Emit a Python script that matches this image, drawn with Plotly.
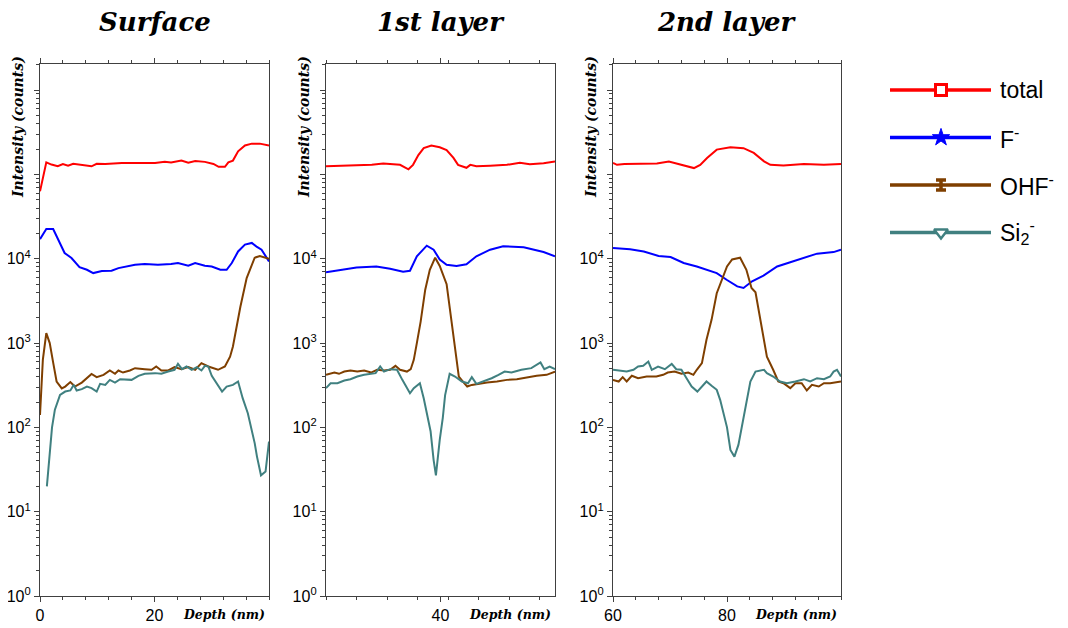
import plotly.graph_objects as go

# ---------------- data ----------------
# Surface panel
surf_total_x = [0, 1.1, 2.0, 3.1, 4.0, 4.9, 5.8, 7.3, 9.0, 9.9, 11.4, 14.3, 17.2, 20.1, 21.8, 22.9, 24.7, 25.9, 27.1, 28.8, 30.3, 31.2, 32.3, 32.9, 33.7, 34.6, 35.8, 37.0, 38.4, 40]
surf_total_y = [6.3e4, 1.39e5, 1.31e5, 1.25e5, 1.33e5, 1.27e5, 1.34e5, 1.29e5, 1.25e5, 1.34e5, 1.33e5, 1.37e5, 1.36e5, 1.37e5, 1.41e5, 1.39e5, 1.46e5, 1.38e5, 1.44e5, 1.41e5, 1.33e5, 1.23e5, 1.23e5, 1.39e5, 1.46e5, 1.88e5, 2.21e5, 2.32e5, 2.32e5, 2.21e5]
surf_f_x = [0, 1.1, 2.3, 3.1, 4.3, 5.5, 6.9, 8.2, 9.3, 10.8, 12.5, 13.7, 14.9, 16.6, 18.3, 20.6, 22.9, 24.1, 25.9, 27.1, 28.8, 30.0, 31.5, 32.6, 33.5, 34.6, 35.8, 37.0, 37.9, 38.7, 40]
surf_f_y = [1.71e4, 2.25e4, 2.25e4, 1.76e4, 1.17e4, 1.02e4, 7.96e3, 7.4e3, 6.76e3, 7.14e3, 7.2e3, 7.75e3, 8.1e3, 8.5e3, 8.65e3, 8.5e3, 8.65e3, 8.9e3, 8.26e3, 8.9e3, 8.26e3, 8.1e3, 7.4e3, 7.4e3, 8.9e3, 1.22e4, 1.47e4, 1.54e4, 1.38e4, 1.28e4, 9.3e3]
surf_ohf_x = [0, 0.5, 1.1, 1.7, 2.3, 2.9, 3.8, 4.4, 5.3, 6.1, 7.3, 8.2, 9.0, 9.9, 11.1, 12.2, 13.1, 13.7, 14.5, 15.7, 16.6, 18.3, 19.5, 20.3, 21.2, 22.4, 23.5, 24.7, 25.9, 27.1, 28.2, 29.4, 31.1, 32.3, 33.2, 33.7, 34.3, 35.0, 36.1, 37.5, 38.4, 40]
surf_ohf_y = [140, 635, 1310, 1000, 585, 350, 290, 305, 345, 305, 340, 380, 430, 395, 420, 473, 432, 473, 447, 473, 504, 490, 482, 527, 473, 473, 518, 490, 518, 482, 578, 527, 482, 527, 690, 910, 1580, 2700, 5900, 1.03e4, 1.08e4, 1.0e4]
surf_si_x = [1.2, 1.7, 2.1, 2.6, 3.5, 4.4, 5.3, 5.9, 6.4, 7.3, 8.2, 9.0, 9.9, 10.5, 11.4, 12.2, 13.1, 14.0, 14.9, 16.0, 17.2, 18.3, 20.1, 21.2, 22.4, 23.5, 24.1, 24.8, 25.6, 26.5, 27.4, 28.2, 28.8, 29.4, 30.0, 30.9, 31.8, 32.6, 33.7, 34.6, 35.4, 36.3, 36.9, 37.5, 37.9, 38.6, 39.4, 40]
surf_si_y = [20, 50, 100, 162, 243, 266, 274, 319, 274, 284, 305, 292, 266, 328, 319, 366, 340, 373, 373, 366, 408, 432, 440, 432, 459, 482, 567, 490, 527, 482, 518, 473, 537, 527, 409, 334, 266, 305, 319, 350, 222, 147, 98, 65, 45, 27, 30, 68]

# 1st layer panel
l1_total_x = [25, 27, 29, 31, 32.5, 34.7, 35.8, 36.4, 37.1, 37.8, 38.8, 39.9, 40.8, 41.7, 42.3, 43.4, 43.9, 44.7, 46.5, 48.7, 50.4, 51.7, 53.5, 55]
l1_total_y = [1.25e5, 1.26e5, 1.27e5, 1.3e5, 1.35e5, 1.3e5, 1.15e5, 1.3e5, 1.7e5, 2.05e5, 2.2e5, 2.1e5, 1.95e5, 1.57e5, 1.3e5, 1.2e5, 1.3e5, 1.25e5, 1.27e5, 1.3e5, 1.38e5, 1.32e5, 1.36e5, 1.42e5]
l1_f_x = [25, 26.8, 29, 31.6, 33.4, 35.1, 36, 36.9, 38.2, 39.1, 39.9, 40.8, 42.1, 43.4, 44.7, 46.5, 48.2, 50.9, 53.5, 55]
l1_f_y = [6.9e3, 7.3e3, 7.9e3, 8.1e3, 7.6e3, 7.0e3, 7.2e3, 1.07e4, 1.43e4, 1.28e4, 9.8e3, 8.5e3, 8.2e3, 8.6e3, 1.07e4, 1.28e4, 1.41e4, 1.37e4, 1.2e4, 1.07e4]
l1_ohf_x = [25, 26.1, 26.7, 27.4, 28.2, 29.1, 30, 30.9, 31.7, 32.6, 33.4, 34.1, 34.7, 35.6, 36.1, 36.5, 36.9, 37.4, 38, 38.6, 39.3, 39.9, 40.8, 41.3, 42, 42.4, 43.1, 43.5, 44.1, 45.2, 46.1, 47.4, 48.7, 50, 51.3, 52.6, 53.9, 55]
l1_ohf_y = [420, 447, 432, 459, 473, 459, 473, 447, 482, 473, 482, 537, 482, 459, 490, 633, 998, 1800, 4300, 7400, 1.03e4, 8.2e3, 5000, 2200, 765, 401, 334, 305, 319, 334, 340, 350, 366, 373, 394, 409, 420, 459]
l1_si_x = [25, 25.6, 26.5, 27.4, 28.2, 29.1, 30, 30.9, 31.5, 32.1, 32.6, 33.4, 34.3, 35, 35.6, 36, 36.5, 37.3, 37.8, 38.3, 38.7, 39.1, 39.4, 39.9, 40.3, 40.6, 41.2, 41.9, 42.8, 43.6, 44.1, 44.7, 45.6, 46.7, 47.6, 48.4, 49.3, 50.6, 51.9, 53.1, 53.6, 54.3, 55]
l1_si_y = [292, 334, 334, 360, 373, 401, 420, 432, 440, 527, 459, 490, 482, 366, 292, 254, 292, 334, 222, 134, 90, 41, 27, 71, 130, 240, 432, 401, 350, 334, 394, 328, 350, 383, 420, 459, 447, 482, 504, 588, 490, 527, 490]

# 2nd layer panel
l2_total_x = [60, 60.7, 62, 64.2, 67.7, 69.8, 71.8, 74.2, 75.3, 76.5, 78.2, 80.6, 82.9, 84.7, 86.5, 87.6, 89.9, 93.5, 97, 100]
l2_total_y = [1.37e5, 1.3e5, 1.33e5, 1.33e5, 1.35e5, 1.42e5, 1.3e5, 1.19e5, 1.3e5, 1.57e5, 1.97e5, 2.1e5, 2.05e5, 1.8e5, 1.43e5, 1.3e5, 1.28e5, 1.33e5, 1.3e5, 1.33e5]
l2_f_x = [60, 63, 65.4, 68, 70.1, 72.4, 74.7, 76.5, 78.2, 80, 81.8, 82.9, 84.4, 86.4, 88.8, 91.1, 93.5, 95.8, 98.7, 100]
l2_f_y = [1.34e4, 1.3e4, 1.22e4, 1.08e4, 1.05e4, 8.9e3, 8.1e3, 7.3e3, 6.75e3, 5.6e3, 4.7e3, 4.5e3, 5.4e3, 6.3e3, 8.1e3, 9.1e3, 1.02e4, 1.15e4, 1.2e4, 1.28e4]
l2_ohf_x = [60, 61, 61.7, 62.4, 63.3, 64.4, 65.9, 67.6, 68.8, 69.6, 70.8, 72, 73.2, 74.1, 74.7, 75.6, 76.4, 77.3, 78.2, 79.1, 80, 80.9, 82.3, 83.4, 84.3, 85, 85.8, 87, 88.1, 89, 89.9, 91.1, 92, 93.1, 94, 94.9, 96.1, 97, 98.1, 100]
l2_ohf_y = [366, 350, 394, 350, 409, 383, 401, 401, 420, 447, 459, 432, 447, 420, 482, 578, 1093, 1900, 3900, 5600, 8100, 9800, 1.03e4, 7400, 4500, 4000, 1900, 690, 482, 350, 334, 292, 334, 334, 274, 319, 305, 334, 334, 350]
l2_si_x = [60, 61.3, 62.4, 63.6, 64.4, 65.3, 66.2, 66.8, 67.9, 69.1, 70.3, 71.1, 72, 72.9, 73.8, 74.8, 75.6, 76.4, 77.3, 78.2, 78.8, 79.4, 80, 80.6, 81.3, 82.0, 82.6, 83.2, 84.1, 85, 86.5, 87, 88.1, 89.3, 90.5, 92, 93.5, 94.6, 95.8, 97, 98.1, 98.7, 99.3, 100]
l2_si_y = [482, 473, 459, 482, 527, 537, 604, 482, 527, 490, 567, 490, 482, 383, 305, 266, 305, 350, 311, 279, 212, 147, 100, 54, 45, 62, 100, 177, 350, 459, 482, 440, 401, 350, 334, 350, 373, 350, 383, 373, 401, 459, 482, 401]

panel_titles = ["Surface", "1st layer", "2nd layer"]
x_ranges = [[0, 40], [25, 55], [60, 100]]
x_tick_labels = [[0, 20], [40], [60, 80]]
y_tick_vals = [1, 10, 100, 1000, 10000, 100000, 1000000]
y_tick_text = ["10<sup>0</sup>", "10<sup>1</sup>", "10<sup>2</sup>", "10<sup>3</sup>", "10<sup>4</sup>", " ", " "]
series_names = ["total", "F<sup>-</sup>", "OHF<sup>-</sup>", "Si<sub>2</sub><sup>-</sup>"]
series_colors = ["#FF0000", "#0000FF", "#7F3F00", "#408080"]

panel_data = [
    [(surf_total_x, surf_total_y), (surf_f_x, surf_f_y), (surf_ohf_x, surf_ohf_y), (surf_si_x, surf_si_y)],
    [(l1_total_x, l1_total_y), (l1_f_x, l1_f_y), (l1_ohf_x, l1_ohf_y), (l1_si_x, l1_si_y)],
    [(l2_total_x, l2_total_y), (l2_f_x, l2_f_y), (l2_ohf_x, l2_ohf_y), (l2_si_x, l2_si_y)],
]

# ---------------- layout geometry ----------------
# The page has an 8px body margin; design in page pixels and shift.
OFF = 8
W, H = 1068 - OFF, 628 - OFF


def fx(p):  # page x pixel -> paper fraction
    return (p - OFF) / W


def fy(p):  # page y pixel -> paper fraction (from bottom)
    return 1 - (p - OFF) / H


px_domains = [(40, 269), (326, 555), (613, 841)]
y_top_px, y_bot_px = 64, 596
ydom = [fy(y_bot_px), fy(y_top_px)]
AXC = "#404040"
serif = "DejaVu Serif"
sans = "Liberation Sans"

fig = go.Figure()
layout = dict(
    width=W, height=H, margin=dict(l=0, r=0, t=0, b=0, autoexpand=False),
    paper_bgcolor="white", plot_bgcolor="rgba(0,0,0,0)", showlegend=False,
    annotations=[],
)

for i in range(3):
    sfx = "" if i == 0 else str(i + 1)
    xa, ya = "x" + sfx, "y" + sfx
    for (xs, ys), c in zip(panel_data[i], series_colors):
        fig.add_trace(go.Scatter(x=xs, y=ys, mode="lines", line=dict(color=c, width=2),
                                 xaxis=xa, yaxis=ya, hoverinfo="x+y"))
    x0, x1 = x_ranges[i]
    layout["xaxis" + sfx] = dict(
        domain=[fx(px_domains[i][0]), fx(px_domains[i][1])], anchor=ya, automargin=False,
        range=x_ranges[i], tickmode="array", tickvals=x_tick_labels[i],
        ticks="outside", ticklen=5, tickcolor=AXC, showgrid=False, zeroline=False,
        showline=True, linecolor=AXC, linewidth=1.3, mirror="ticks",
        tickfont=dict(family=sans, size=16, color="black"),
        minor=dict(tickmode="array", tickvals=list(range(x0, x1 + 1, 4)), ticks="outside",
                   ticklen=3, tickcolor=AXC, showgrid=False),
    )
    layout["yaxis" + sfx] = dict(
        domain=ydom, anchor=xa, type="log", range=[0, 6.31], automargin=False,
        tickmode="array", tickvals=y_tick_vals, ticktext=y_tick_text,
        ticks="outside", ticklen=5, tickcolor=AXC, showgrid=False, zeroline=False,
        showline=True, linecolor=AXC, linewidth=1.3, mirror=True,
        tickfont=dict(family=sans, size=16, color="black"),
        minor=dict(tickmode="array",
                   tickvals=[m * 10 ** e for e in range(0, 7) for m in range(2, 10)],
                   ticks="outside", ticklen=3, tickcolor=AXC, showgrid=False),
    )
    cx = fx((px_domains[i][0] + px_domains[i][1]) / 2)
    layout["annotations"].append(dict(
        text=panel_titles[i], x=cx, y=fy(22), xref="paper", yref="paper",
        showarrow=False, xanchor="center", yanchor="middle",
        font=dict(family=serif, size=26, color="black", weight="bold", style="italic")))
    layout["annotations"].append(dict(
        text="Intensity (counts)", x=fx(px_domains[i][0] - 22), y=fy(127),
        xref="paper", yref="paper", showarrow=False, textangle=-90,
        xanchor="center", yanchor="middle",
        font=dict(family=serif, size=14, color="black", weight="bold", style="italic")))
    layout["annotations"].append(dict(
        text="Depth (nm)", x=fx(px_domains[i][1] - 2), y=fy(614),
        xref="paper", yref="paper", showarrow=False, xanchor="right", yanchor="middle",
        font=dict(family=serif, size=12.5, color="black", weight="bold", style="italic")))

# ---------------- legend (drawn on a hidden pixel-scaled axis) ----------------
leg_y = [90, 137.5, 185, 232.5]
leg_x0, leg_x1, leg_xm = 890, 991, 941
layout["xaxis4"] = dict(domain=[0, 1], range=[OFF, OFF + W], visible=False, anchor="y4",
                        fixedrange=True, automargin=False)
layout["yaxis4"] = dict(domain=[0, 1], range=[OFF + H, OFF], visible=False, anchor="x4",
                        fixedrange=True, automargin=False)
for k, (nm, c) in enumerate(zip(series_names, series_colors)):
    yy = leg_y[k]
    fig.add_trace(go.Scatter(x=[leg_x0, leg_x1], y=[yy, yy], mode="lines",
                             line=dict(color=c, width=3.5), xaxis="x4", yaxis="y4", hoverinfo="skip"))
    if k == 0:
        mk = dict(symbol="square", size=11, color="white", line=dict(color=c, width=3))
        fig.add_trace(go.Scatter(x=[leg_xm], y=[yy], mode="markers", marker=mk,
                                 xaxis="x4", yaxis="y4", hoverinfo="skip"))
    elif k == 1:
        mk = dict(symbol="star", size=13, color=c, line=dict(color=c, width=1))
        fig.add_trace(go.Scatter(x=[leg_xm], y=[yy], mode="markers", marker=mk,
                                 xaxis="x4", yaxis="y4", hoverinfo="skip"))
    elif k == 2:
        fig.add_trace(go.Scatter(x=[leg_xm], y=[yy], mode="markers",
                                 marker=dict(size=1, color=c),
                                 error_y=dict(type="constant", value=5, color=c, thickness=3.5, width=5),
                                 xaxis="x4", yaxis="y4", hoverinfo="skip"))
    else:
        mk = dict(symbol="triangle-down", size=12, color="white", line=dict(color=c, width=2.5))
        fig.add_trace(go.Scatter(x=[leg_xm], y=[yy], mode="markers", marker=mk,
                                 xaxis="x4", yaxis="y4", hoverinfo="skip"))
    layout["annotations"].append(dict(
        text=nm, x=fx(998), y=fy(yy), xref="paper", yref="paper", showarrow=False,
        xanchor="left", yanchor="middle", font=dict(family=sans, size=23, color="black")))

fig.update_layout(**layout)
fig.write_html("out.html")
